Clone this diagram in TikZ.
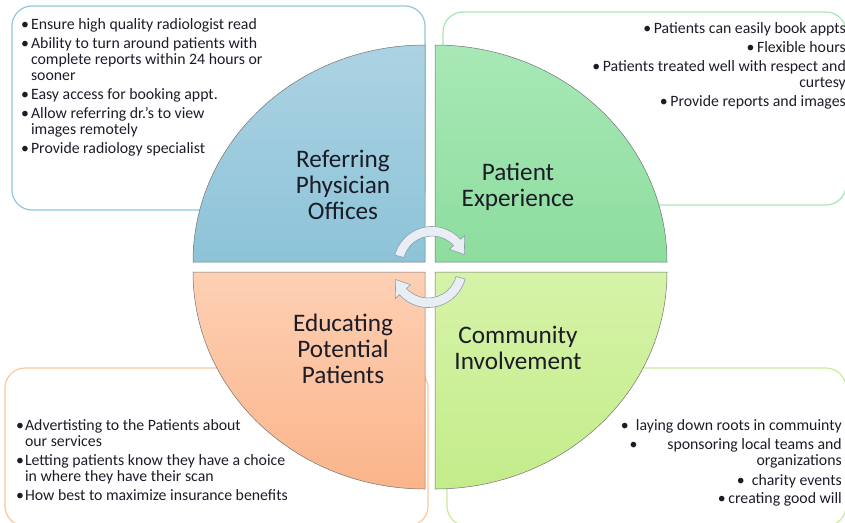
\documentclass[tikz,border=0pt]{standalone}
\usepackage{fontspec}
\setmainfont{Carlito}
\definecolor{blueedge}{HTML}{8CC8DC}
\definecolor{greenedge}{HTML}{A6E6B2}
\definecolor{orangeedge}{HTML}{F9C7A2}
\definecolor{limeedge}{HTML}{CBEA98}
\definecolor{arrowfill}{HTML}{E8EEF4}
\definecolor{arrowedge}{HTML}{8E9EAC}
\definecolor{inktext}{HTML}{1C1C28}

\begin{document}
\begin{tikzpicture}[x=1pt,y=-1pt,
    listtext/.style={inner sep=0pt, font=\fontsize{15.8}{16}\selectfont, text=inktext},
    quadlabel/.style={inner sep=0pt, align=center, font=\fontsize{25.2}{26}\selectfont, text=inktext},
    outerbox/.style={line width=1.2pt, rounded corners=20pt},
    quadedge/.style={draw=black!55, line width=0.5pt},
    cyclearrow/.style={fill=arrowfill, draw=arrowedge, line width=0.6pt}]
  \useasboundingbox (0,0) rectangle (845,522);
  % boxes behind the circle
  \draw[outerbox, blueedge] (12,6) rectangle (425,210);
  \draw[outerbox, greenedge] (443,12) rectangle (846,205);
  \draw[outerbox, orangeedge] (5,368) rectangle (428,526);
  \draw[outerbox, limeedge] (447,368) rectangle (846,526);
  % the four quarters
  \shadedraw[quadedge, top color={rgb,255:red,172;green,211;blue,227}, bottom color={rgb,255:red,141;green,195;blue,216}]
    (425,262) -- (193,262) arc[start angle=180, end angle=270, x radius=232, y radius=217] -- cycle;
  \shadedraw[quadedge, top color={rgb,255:red,168;green,232;blue,182}, bottom color={rgb,255:red,141;green,221;blue,158}]
    (435,262) -- (667,262) arc[start angle=0, end angle=-90, x radius=232, y radius=217] -- cycle;
  \shadedraw[quadedge, top color={rgb,255:red,253;green,208;blue,180}, bottom color={rgb,255:red,251;green,180;blue,138}]
    (425,272) -- (193,272) arc[start angle=180, end angle=90, x radius=232, y radius=217] -- cycle;
  \shadedraw[quadedge, top color={rgb,255:red,214;green,243;blue,168}, bottom color={rgb,255:red,195;green,236;blue,138}]
    (435,272) -- (667,272) arc[start angle=0, end angle=90, x radius=232, y radius=217] -- cycle;
  % quarter labels
  \node[quadlabel] (referring) at (343,185) {Referring\\Physician\\Offices};
  \node[quadlabel] (experience) at (518,187) {Patient\\Experience};
  \node[quadlabel] (educating) at (343,348.5) {Educating\\Potential\\Patients};
  \node[quadlabel] (community) at (518,348) {Community\\Involvement};
  % cycle arrows
  \begin{scope}[shift={(432,265)}]
    \filldraw[cyclearrow] (195:38.5) arc[start angle=195, end angle=318, radius=38.5] -- (318:44)
      -- (342:34) -- (318:23.5) -- (318:29) arc[start angle=318, end angle=195, radius=29] -- cycle;
  \end{scope}
  \begin{scope}[shift={(428,269)}]
    \filldraw[cyclearrow] (15:38.5) arc[start angle=15, end angle=138, radius=38.5] -- (138:44)
      -- (162:34) -- (138:23.5) -- (138:29) arc[start angle=138, end angle=15, radius=29] -- cycle;
  \end{scope}
  % bullet lists
  \node[listtext, anchor=base west] (refitems) at (21,29) {\begin{tabular}[t]{@{}l@{\hspace{2pt}}l@{}}
    \textbullet & Ensure high quality radiologist read\\[3pt]
    \textbullet & Ability to turn around patients with\\
                & complete reports within 24 hours or\\
                & sooner\\[3pt]
    \textbullet & Easy access for booking appt.\\[3pt]
    \textbullet & Allow referring dr.'s to view\\
                & images remotely\\[3pt]
    \textbullet & Provide radiology specialist
  \end{tabular}};
  \node[listtext, anchor=base east] (expitems) at (846,33) {\begin{tabular}[t]{@{}r@{}}
    \textbullet\,Patients can easily book appts\\[3pt]
    \textbullet\,Flexible hours\\[3pt]
    \textbullet\,Patients treated well with respect and\\
    curtesy\\[3pt]
    \textbullet\,Provide reports and images
  \end{tabular}};
  \node[listtext, anchor=base west] (eduitems) at (16,430) {\begin{tabular}[t]{@{}l@{\hspace{1pt}}l@{}}
    \textbullet & Advertisting to the Patients about\\
                & our services\\[3pt]
    \textbullet & Letting patients know they have a choice\\
                & in where they have their scan\\[3pt]
    \textbullet & How best to maximize insurance benefits
  \end{tabular}};
  \node[listtext, anchor=base east] (comitems) at (842,430) {\begin{tabular}[t]{@{}r@{}}
    \textbullet\ \ laying down roots in commuinty\\[3pt]
    \textbullet\hspace{30pt}sponsoring local teams and\\
    organizations\\[4pt]
    \textbullet\ \ charity events\\[2pt]
    \textbullet\,creating good will
  \end{tabular}};
\end{tikzpicture}
\end{document}
